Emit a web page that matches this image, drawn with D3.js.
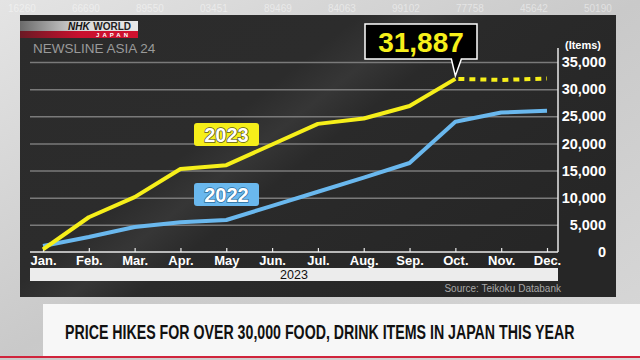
<!DOCTYPE html>
<html><head><meta charset="utf-8">
<script src="https://cdn.jsdelivr.net/npm/d3@7/dist/d3.min.js"></script>
<style>
html,body{margin:0;padding:0;background:#d4d4d4;}
svg{display:block;font-family:"Liberation Sans",Arial,sans-serif;}
</style></head>
<body>
<svg id="c" width="640" height="360"></svg>
<script>
const months = ["Jan.","Feb.","Mar.","Apr.","May","Jun.","Jul.","Aug.","Sep.","Oct.","Nov.","Dec."];
const values2023 = [500, 6400, 10100, 15300, 16000, 19800, 23600, 24600, 26900, 31887];
const forecast2023 = [31887, 31700, 31950];
const values2022 = [1100, 2750, 4600, 5500, 5900, 8500, 11100, 13700, 16400, 24000, 25700, 26000];
const yTicks = [0, 5000, 10000, 15000, 20000, 25000, 30000, 35000];
const calloutValue = 31887;
const bgDigits = ["16260","66690","89550","03451","89469","84063","99102","77758","45642","50190"];

const svg = d3.select("#c");
const defs = svg.append("defs");
const bgG = defs.append("linearGradient").attr("id","bg").attr("x1","0").attr("x2","1").attr("y1","0").attr("y2","1");
bgG.append("stop").attr("offset","0").attr("stop-color","#e4e4e4");
bgG.append("stop").attr("offset","0.5").attr("stop-color","#c9c9c9");
bgG.append("stop").attr("offset","1").attr("stop-color","#d8d8d8");
const pG = defs.append("linearGradient").attr("id","panel").attr("x1","0").attr("x2","1").attr("y1","0").attr("y2","0.6");
pG.append("stop").attr("offset","0").attr("stop-color","#2b2b2b");
pG.append("stop").attr("offset","0.42").attr("stop-color","#2c2c2c");
pG.append("stop").attr("offset","0.5").attr("stop-color","#363636");
pG.append("stop").attr("offset","0.58").attr("stop-color","#2a2a2a");
pG.append("stop").attr("offset","1").attr("stop-color","#262626");
const logoG = defs.append("linearGradient").attr("id","logo").attr("x1","0").attr("x2","1");
logoG.append("stop").attr("offset","0").attr("stop-color","#6a6a6a");
logoG.append("stop").attr("offset","0.5").attr("stop-color","#d8d8d8");
logoG.append("stop").attr("offset","1").attr("stop-color","#e8e8e8");
const redG = defs.append("linearGradient").attr("id","red").attr("x1","0").attr("x2","1");
redG.append("stop").attr("offset","0").attr("stop-color","#6a1a24");
redG.append("stop").attr("offset","0.5").attr("stop-color","#c8102e");
redG.append("stop").attr("offset","1").attr("stop-color","#d0122f");

// background
svg.append("rect").attr("width",640).attr("height",360).attr("fill","url(#bg)");
const bgText = svg.append("g").attr("fill","#ffffff").attr("fill-opacity",0.45).attr("font-size",10);
bgDigits.forEach((d,i) => {
  bgText.append("text").attr("x", 8 + i*64).attr("y", 12).text(d);
});

// panel
svg.append("rect").attr("x",20).attr("y",15).attr("width",596).attr("height",282).attr("fill","url(#panel)");

// logo
svg.append("rect").attr("x",20).attr("y",21).attr("width",118).attr("height",10).attr("fill","url(#logo)");
svg.append("rect").attr("x",20).attr("y",31).attr("width",118).attr("height",7).attr("fill","url(#red)");
svg.append("text").attr("x",68).attr("y",30).attr("font-size",10).attr("font-weight","bold").attr("font-style","italic").attr("fill","#111").text("NHK");
svg.append("text").attr("x",131).attr("y",30).attr("text-anchor","end").attr("font-size",10).attr("font-weight","bold").attr("fill","#222").text("WORLD");
svg.append("text").attr("x",131).attr("y",37).attr("text-anchor","end").attr("font-size",6).attr("font-weight","bold").attr("letter-spacing",3).attr("fill","#fff").text("JAPAN");
svg.append("text").attr("x",33).attr("y",53).attr("font-size",13.5).attr("fill","#9a9a9a").text("NEWSLINE ASIA 24");

// scales
const x = d3.scalePoint().domain(months).range([43, 547]);
const y = d3.scaleLinear().domain([0, 35000]).range([252, 62]);

// gridlines
const grid = svg.append("g").attr("transform","translate(30,0)")
  .call(d3.axisRight(y).tickValues(yTicks.filter(v=>v>0)).tickSize(528).tickFormat(""));
grid.select(".domain").remove();
grid.selectAll("line").attr("stroke","#7a7a7a").attr("stroke-width",1.5);

// y axis
const yAx = svg.append("g").attr("transform","translate(558,0)")
  .call(d3.axisRight(y).tickValues(yTicks).tickSize(0).tickFormat(d3.format(",")));
yAx.select(".domain").attr("d","M0,48V252").attr("stroke","#e8e8e8").attr("stroke-width",1.5);
yAx.selectAll("text").attr("x",48).attr("text-anchor","end").attr("fill","#fff")
  .attr("font-size",14.5).attr("font-weight","bold").attr("font-family","Liberation Sans, Arial, sans-serif");
svg.append("text").attr("x",583).attr("y",49).attr("text-anchor","middle").attr("font-size",11).attr("font-weight","bold").attr("fill","#fff").text("(Items)");

// x axis
const xAx = svg.append("g").attr("transform","translate(0,252)")
  .call(d3.axisBottom(x).tickSize(-4).tickPadding(4));
xAx.select(".domain").attr("d","M30,0H558").attr("stroke","#e8e8e8").attr("stroke-width",1.5);
xAx.selectAll(".tick line").attr("stroke","#e8e8e8").attr("stroke-width",1.2);
xAx.selectAll("text").attr("y",4).attr("fill","#fff").attr("font-size",13).attr("font-weight","bold")
  .attr("font-family","Liberation Sans, Arial, sans-serif");

// year bar
svg.append("rect").attr("x",30).attr("y",268).attr("width",528).attr("height",13).attr("fill","#ececec");
svg.append("text").attr("x",294).attr("y",279).attr("text-anchor","middle").attr("font-size",12.5).attr("fill","#111").text("2023");
svg.append("text").attr("x",561).attr("y",292).attr("text-anchor","end").attr("font-size",10).attr("fill","#a8a8a8").text("Source: Teikoku Databank");

// lines
const line = d3.line().x(d => x(d.m)).y(d => y(d.v));
const d22 = values2022.map((v,i)=>({m:months[i], v}));
const d23 = values2023.map((v,i)=>({m:months[i], v}));
const f23 = forecast2023.map((v,i)=>({m:months[i+9], v}));
svg.append("path").datum(d22).attr("d",line).attr("fill","none").attr("stroke","#6ab8ee").attr("stroke-width",4).attr("stroke-linejoin","round");
svg.append("path").datum(d23).attr("d",line).attr("fill","none").attr("stroke","#f6ef1a").attr("stroke-width",4).attr("stroke-linejoin","round");
svg.append("path").datum(f23).attr("d",line).attr("fill","none").attr("stroke","#f6ef1a").attr("stroke-width",4).attr("stroke-dasharray","6,5").attr("stroke-dashoffset",-3);

// series labels
function tag(x0, y0, fill, stroke, txt) {
  svg.append("rect").attr("x",x0).attr("y",y0).attr("width",65).attr("height",23).attr("rx",3).attr("fill",fill);
  svg.append("text").attr("x",x0+32.5).attr("y",y0+19).attr("text-anchor","middle").attr("font-size",20).attr("font-weight","bold")
    .attr("fill","#fff").attr("stroke",stroke).attr("stroke-width",1.5).attr("paint-order","stroke").text(txt);
}
tag(194, 123, "#f6ef1a", "#5a5a20", "2023");
tag(194, 183, "#6ab8ee", "#2c6e9e", "2022");

// callout
const cx = x("Oct."), cy = y(calloutValue);
svg.append("path").attr("d",`M365,24H477V59H${cx+6}L${cx},${cy-3}L${cx-4},59H365Z`)
  .attr("fill","#000").attr("stroke","#fff").attr("stroke-width",1.5);
svg.append("text").attr("x",421).attr("y",52).attr("text-anchor","middle").attr("font-size",28).attr("font-weight","bold")
  .attr("fill","#f6ef1a").text(d3.format(",")(calloutValue));

// bottom banner
svg.append("rect").attr("x",43).attr("y",304).attr("width",597).attr("height",52).attr("fill","#f7f7f7");
svg.append("rect").attr("x",0).attr("y",356).attr("width",640).attr("height",2).attr("fill","#d0243c");
const headG = svg.append("g");
const head = headG.append("text").attr("x",0).attr("y",0)
  .attr("font-size",21).attr("font-weight","bold").attr("fill","#111")
  .text("PRICE HIKES FOR OVER 30,000 FOOD, DRINK ITEMS IN JAPAN THIS YEAR");
const natW = head.node().getComputedTextLength();
headG.attr("transform",`translate(65,339) scale(${510/natW},1)`);
</script>
</body></html>
